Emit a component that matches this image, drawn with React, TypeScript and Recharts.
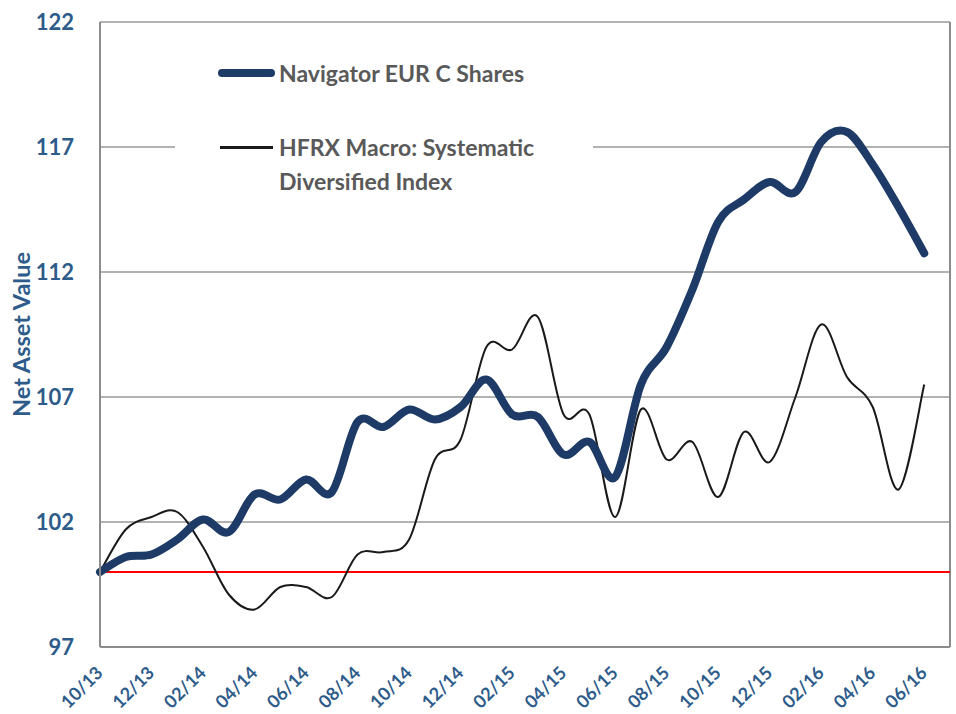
import React from "react"
import { LineChart, Line, XAxis, YAxis, CartesianGrid, ReferenceLine } from "recharts"

// month labels, one per data point (10/13 .. 06/16)
const months = [
  "10/13", "11/13", "12/13", "01/14", "02/14", "03/14", "04/14", "05/14", "06/14",
  "07/14", "08/14", "09/14", "10/14", "11/14", "12/14", "01/15", "02/15", "03/15",
  "04/15", "05/15", "06/15", "07/15", "08/15", "09/15", "10/15", "11/15", "12/15",
  "01/16", "02/16", "03/16", "04/16", "05/16", "06/16",
]

const navigator = [
  100, 100.6, 100.7, 101.3, 102.1, 101.6, 103.1, 102.9, 103.7, 103.2, 106.0,
  105.8, 106.5, 106.1, 106.6, 107.7, 106.3, 106.2, 104.7, 105.2, 103.8, 107.5,
  109.0, 111.3, 114.0, 114.9, 115.6, 115.2, 117.2, 117.6, 116.3, 114.6, 112.75,
]

const hfrx = [
  100, 101.7, 102.2, 102.4, 101.0, 99.1, 98.5, 99.4, 99.4, 99.0, 100.7,
  100.8, 101.3, 104.5, 105.3, 109.0, 108.9, 110.2, 106.3, 106.3, 102.2, 106.5,
  104.5, 105.2, 103.0, 105.6, 104.4, 107.0, 109.9, 107.8, 106.6, 103.3, 107.5,
]

const yTicks = [97, 102, 107, 112, 117, 122]
const xTicks = [0, 2, 4, 6, 8, 10, 12, 14, 16, 18, 20, 22, 24, 26, 28, 30, 32]

const data = months.map((m, i) => ({ i, month: m, nav: navigator[i], hfrx: hfrx[i] }))

const BLUE = "#2e5c8a"
const NAVY = "#1d3b66"
const GRID = "#999999"
const FONT = "Lato, 'Open Sans', sans-serif"

// excel style smoothed line (catmull-rom through the points)
function smoothCurve(context: any) {
  let pts: number[][] = []
  return {
    areaStart() {},
    areaEnd() {},
    lineStart() {
      pts = []
    },
    point(x: number, y: number) {
      pts.push([+x, +y])
    },
    lineEnd() {
      if (!pts.length) return
      context.moveTo(pts[0][0], pts[0][1])
      for (let k = 0; k < pts.length - 1; k++) {
        const p0 = pts[k - 1] || pts[k]
        const p1 = pts[k]
        const p2 = pts[k + 1]
        const p3 = pts[k + 2] || p2
        context.bezierCurveTo(
          p1[0] + (p2[0] - p0[0]) / 6,
          p1[1] + (p2[1] - p0[1]) / 6,
          p2[0] - (p3[0] - p1[0]) / 6,
          p2[1] - (p3[1] - p1[1]) / 6,
          p2[0],
          p2[1]
        )
      }
    },
  }
}

const XTick = (props: any) => {
  const { x, y, payload } = props
  const px = x + 4
  const py = y + 25
  return (
    <text
      x={px}
      y={py}
      transform={`rotate(-45 ${px} ${py})`}
      textAnchor="end"
      fill={BLUE}
      fontSize={18}
      fontWeight={700}
      fontFamily={FONT}
    >
      {months[payload.value]}
    </text>
  )
}

export default function App() {
  return (
    <div style={{ position: "absolute", left: 0, top: 0, width: 956, height: 714, background: "#fff" }}>
      <LineChart width={956} height={714} data={data} margin={{ top: 22, right: 6, bottom: 0, left: 0 }}>
        <CartesianGrid horizontal vertical={false} stroke={GRID} strokeWidth={1.5} />
        <XAxis
          type="number"
          dataKey="i"
          domain={[0, 33]}
          ticks={xTicks}
          interval={0}
          height={67}
          tickLine={false}
          tickSize={0}
          axisLine={{ stroke: "#8c8c8c", strokeWidth: 2 }}
          tick={<XTick />}
        />
        <YAxis
          domain={[97, 122]}
          ticks={yTicks}
          width={100}
          tickLine={false}
          tickSize={0}
          tickMargin={26}
          axisLine={{ stroke: "#8c8c8c", strokeWidth: 2 }}
          tick={{ fill: BLUE, fontSize: 22, fontWeight: 700, fontFamily: FONT }}
          label={{
            value: "Net Asset Value",
            angle: -90,
            position: "insideLeft",
            offset: 22,
            style: { fill: BLUE, fontSize: 23.5, fontWeight: 700, fontFamily: FONT, textAnchor: "middle" },
          }}
        />
        <ReferenceLine x={33} stroke="#8c8c8c" strokeWidth={2} />
        <ReferenceLine y={100} stroke="#ff0000" strokeWidth={2} />
        <Line
          dataKey="hfrx"
          type={smoothCurve as any}
          stroke="#1a1a1a"
          strokeWidth={2}
          dot={false}
          isAnimationActive={false}
        />
        <Line
          dataKey="nav"
          type={smoothCurve as any}
          stroke={NAVY}
          strokeWidth={8}
          strokeLinecap="round"
          dot={false}
          isAnimationActive={false}
        />
      </LineChart>

      {/* legend */}
      <div
        style={{
          position: "absolute",
          left: 175,
          top: 45,
          width: 418,
          height: 160,
          background: "#fff",
          fontFamily: FONT,
          fontWeight: 700,
          fontSize: 23,
          color: "#595959",
        }}
      >
        <div style={{ position: "absolute", left: 43, top: 24, width: 57, height: 8, borderRadius: 4, background: NAVY }} />
        <div style={{ position: "absolute", left: 104, top: 14, lineHeight: "28px", whiteSpace: "nowrap" }}>
          Navigator EUR C Shares
        </div>
        <div style={{ position: "absolute", left: 45, top: 101, width: 53, height: 2.5, background: "#1a1a1a" }} />
        <div style={{ position: "absolute", left: 104, top: 85, lineHeight: "34px", whiteSpace: "nowrap" }}>
          HFRX Macro: Systematic
          <br />
          Diversified Index
        </div>
      </div>
    </div>
  )
}
